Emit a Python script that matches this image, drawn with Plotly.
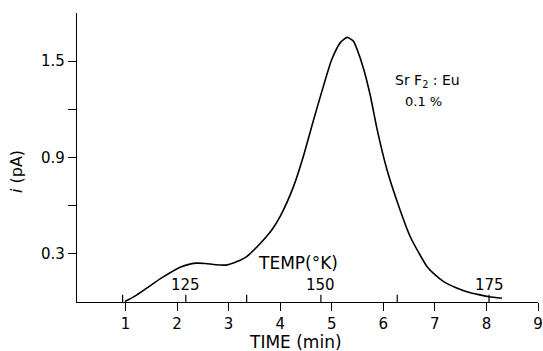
import plotly.graph_objects as go

# Curve data (TIME in min, current in pA)
time_min = [0.99, 1.2, 1.41, 1.7, 2.06, 2.25, 2.38, 2.55, 2.75, 2.97, 3.15, 3.35, 3.6, 3.84,
            4.0, 4.26, 4.45, 4.65, 4.84, 5.0, 5.17, 5.3, 5.42, 5.49, 5.62, 5.75, 5.88,
            6.07, 6.3, 6.52, 6.7, 6.85, 7.0, 7.17, 7.4, 7.62, 7.85, 8.05, 8.3]
current_pA = [0.003, 0.04, 0.086, 0.15, 0.217, 0.236, 0.242, 0.24, 0.232, 0.231, 0.25, 0.283, 0.36, 0.45,
              0.533, 0.72, 0.908, 1.137, 1.346, 1.51, 1.617, 1.648, 1.625, 1.575, 1.45, 1.283, 1.075,
              0.825, 0.596, 0.408, 0.3, 0.22, 0.17, 0.127, 0.09, 0.064, 0.046, 0.033, 0.023]

x_ticks = [1, 2, 3, 4, 5, 6, 7, 8, 9]
y_ticks = [0.3, 0.9, 1.5]
y_minor_ticks = [0.6, 1.2]

# Secondary temperature scale (°K) positions along the time axis
temp_tick_pos = [0.945, 2.17, 3.35, 4.79, 6.27, 8.05]
temp_tick_vals = [112.5, 125, 137.5, 150, 162.5, 175]
temp_labels = {125: "125", 150: "150", 175: "175"}

fig = go.Figure()
fig.add_trace(go.Scatter(x=time_min, y=current_pA, mode="lines",
                         line=dict(color="black", width=1.6, shape="spline", smoothing=0.6),
                         showlegend=False, hoverinfo="skip"))

for pos, val in zip(temp_tick_pos, temp_tick_vals):
    fig.add_shape(type="line", xref="x", yref="y", x0=pos, x1=pos, y0=0, y1=0.045,
                  line=dict(color="black", width=1.2))
    if val in temp_labels:
        fig.add_annotation(x=pos, y=0, xref="x", yref="y", text=temp_labels[val],
                           showarrow=False, yshift=17, font=dict(size=15, color="black"))

fig.add_annotation(x=4.34, y=0.244, xref="x", yref="y", text="TEMP(°K)", showarrow=False,
                   font=dict(size=17, color="black"))
fig.add_annotation(x=6.85, y=1.375, xref="x", yref="y", text="Sr F<sub>2</sub> : Eu", showarrow=False,
                   font=dict(size=14, color="black"))
fig.add_annotation(x=6.77, y=1.25, xref="x", yref="y", text="0.1 %", showarrow=False,
                   font=dict(size=13, color="black"))
fig.add_annotation(x=-0.13, y=0.45, xref="paper", yref="paper", text="<i>i</i> (pA)",
                   textangle=-90, showarrow=False, xanchor="center", yanchor="middle",
                   font=dict(size=16, color="black"))
fig.add_annotation(x=4.3, y=0, xref="x", yref="paper", text="TIME (min)", showarrow=False,
                   yanchor="middle", yshift=-40, font=dict(size=17, color="black"))

fig.update_layout(
    width=543, height=351,
    margin=dict(l=77, r=5, t=13, b=49, autoexpand=False),
    paper_bgcolor="white", plot_bgcolor="white",
    font=dict(family="DejaVu Sans", color="black"),
    xaxis=dict(range=[0.06, 9.0], tickvals=x_ticks, ticks="outside", ticklen=8,
               tickwidth=1.2, tickcolor="black", showline=True, linecolor="black", linewidth=1.4,
               showgrid=False, zeroline=False, tickfont=dict(size=15), automargin=False,
               ticklabeloverflow="allow"),
    yaxis=dict(range=[0, 1.8], tickvals=y_ticks, ticks="outside",
               ticklen=8, tickwidth=1.2, tickcolor="black", showline=True, linecolor="black",
               linewidth=1.4, showgrid=False, zeroline=False, tickfont=dict(size=15),
               automargin=False,
               minor=dict(tickvals=y_minor_ticks, ticks="outside", ticklen=8, tickwidth=1.2,
                          tickcolor="black", showgrid=False)),
)

# Remove the default page margin so the 543x351 figure fills the window exactly.
fig.write_html("out.html", config={"displayModeBar": False},
               post_script="document.body.style.margin='0';document.body.style.overflow='hidden';")
